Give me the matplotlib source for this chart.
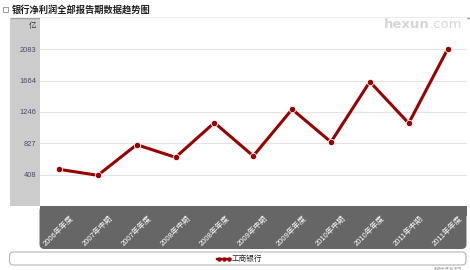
import matplotlib
matplotlib.use('Agg')
import matplotlib.pyplot as plt
from matplotlib.patches import Rectangle, FancyBboxPatch
from matplotlib.transforms import ScaledTranslation

plt.rcParams['font.family'] = ['Noto Sans CJK SC', 'DejaVu Sans']

# data
categories = ['2006年年度', '2007年中期', '2007年年度', '2008年中期', '2008年年度', '2009年中期',
              '2009年年度', '2010年中期', '2010年年度', '2011年中期', '2011年年度']
profit = [480, 400, 809, 640, 1103, 658, 1282, 845, 1650, 1095, 2083]
ytick_values = [408, 827, 1246, 1664, 2083]
series_name = '工商银行'
title = '银行净利润全部报告期数据趋势图'

W, H = 470, 270
line_color = '#990000'
num_font = ['Liberation Sans', 'Noto Sans CJK SC']

fig = plt.figure(figsize=(W / 100, H / 100), dpi=100)
fig.patch.set_facecolor('white')

# background layer in pixel coordinates
bg = fig.add_axes([0, 0, 1, 1], zorder=0)
bg.set_xlim(0, W)
bg.set_ylim(H, 0)
bg.axis('off')

# title row
bg.add_patch(Rectangle((3, 6.5), 5, 5, fc='white', ec='#8a8a8a', lw=0.6))
bg.text(12, 9.5, title, fontsize=6.7, fontweight='bold', color='#222222',
        ha='left', va='center')
bg.plot([10, W], [18, 18], color='#a0a0a0', lw=1.0, solid_capstyle='butt')

# y label panel
bg.add_patch(Rectangle((10, 18.5), 29.5, 187.5, fc='#cccccc', ec='none'))
bg.text(36, 26, '亿', fontsize=5.4, color='#333333', ha='right', va='center')

# dark x label panel with rounded bottom corners
bg.add_patch(FancyBboxPatch((39.5, 206), 427, 43, boxstyle='round,pad=0,rounding_size=5',
                            fc='#666666', ec='none'))
bg.add_patch(Rectangle((39.5, 206), 427, 10, fc='#666666', ec='none'))

# legend box
bg.add_patch(FancyBboxPatch((9.5, 252), 456.5, 13, boxstyle='round,pad=0,rounding_size=4',
                            fc='white', ec='#b5b5b5', lw=0.8))
bg.plot([217, 230], [258.5, 258.5], color=line_color, lw=1.6)
bg.plot([218.5, 223.5, 228.5], [258.5] * 3, 'o', color=line_color, ms=3.2, mew=0)
bg.text(232, 258.5, series_name, fontsize=5.5, color='#222222', ha='left', va='center')

# source note
bg.text(462, 268.5, '数据来源:和讯网', fontsize=2.8, color='#aaaaaa', ha='right', va='center')

# main plot
ax = fig.add_axes([39.5 / W, 1 - 206 / H, 427.5 / W, 188 / H], zorder=1)
ax.set_facecolor('white')
for s in ax.spines.values():
    s.set_visible(False)

x = list(range(len(categories)))
ax.plot(x, profit, color=line_color, lw=2.2, marker='o', ms=4.6,
        mfc=line_color, mec='white', mew=0.6, clip_on=False, zorder=3)

ax.set_xlim(-0.5, len(categories) - 0.5)
ax.set_ylim(-10, 2501)
ax.set_yticks(ytick_values)
ax.set_yticklabels([str(v) for v in ytick_values], fontsize=5.4, color='#4a4a6a',
                   family=num_font)
ax.yaxis.grid(True, color='#e4e4e4', lw=0.8)
ax.set_axisbelow(True)
ax.tick_params(axis='y', length=0, pad=2.5)

ax.set_xticks(x)
ax.set_xticklabels(categories, rotation=45, ha='right', rotation_mode='anchor',
                   fontsize=5.5, color='white', family=num_font)
ax.tick_params(axis='x', length=0, pad=6.0)
offset = ScaledTranslation(11 / 100, 0, fig.dpi_scale_trans)
for lab in ax.get_xticklabels():
    lab.set_transform(lab.get_transform() + offset)

# watermark on top of the plot area
fig.text(430 / W, 1 - 25 / H, 'hexun', fontsize=9.5, fontweight='bold', color='#d6d6d6',
         family='DejaVu Sans', ha='right', va='center', zorder=5)
fig.text(430 / W, 1 - 25 / H, '.com', fontsize=9.5, color='#d6d6d6',
         family='DejaVu Sans', ha='left', va='center', zorder=5)

fig.savefig('out.png', dpi=100)
